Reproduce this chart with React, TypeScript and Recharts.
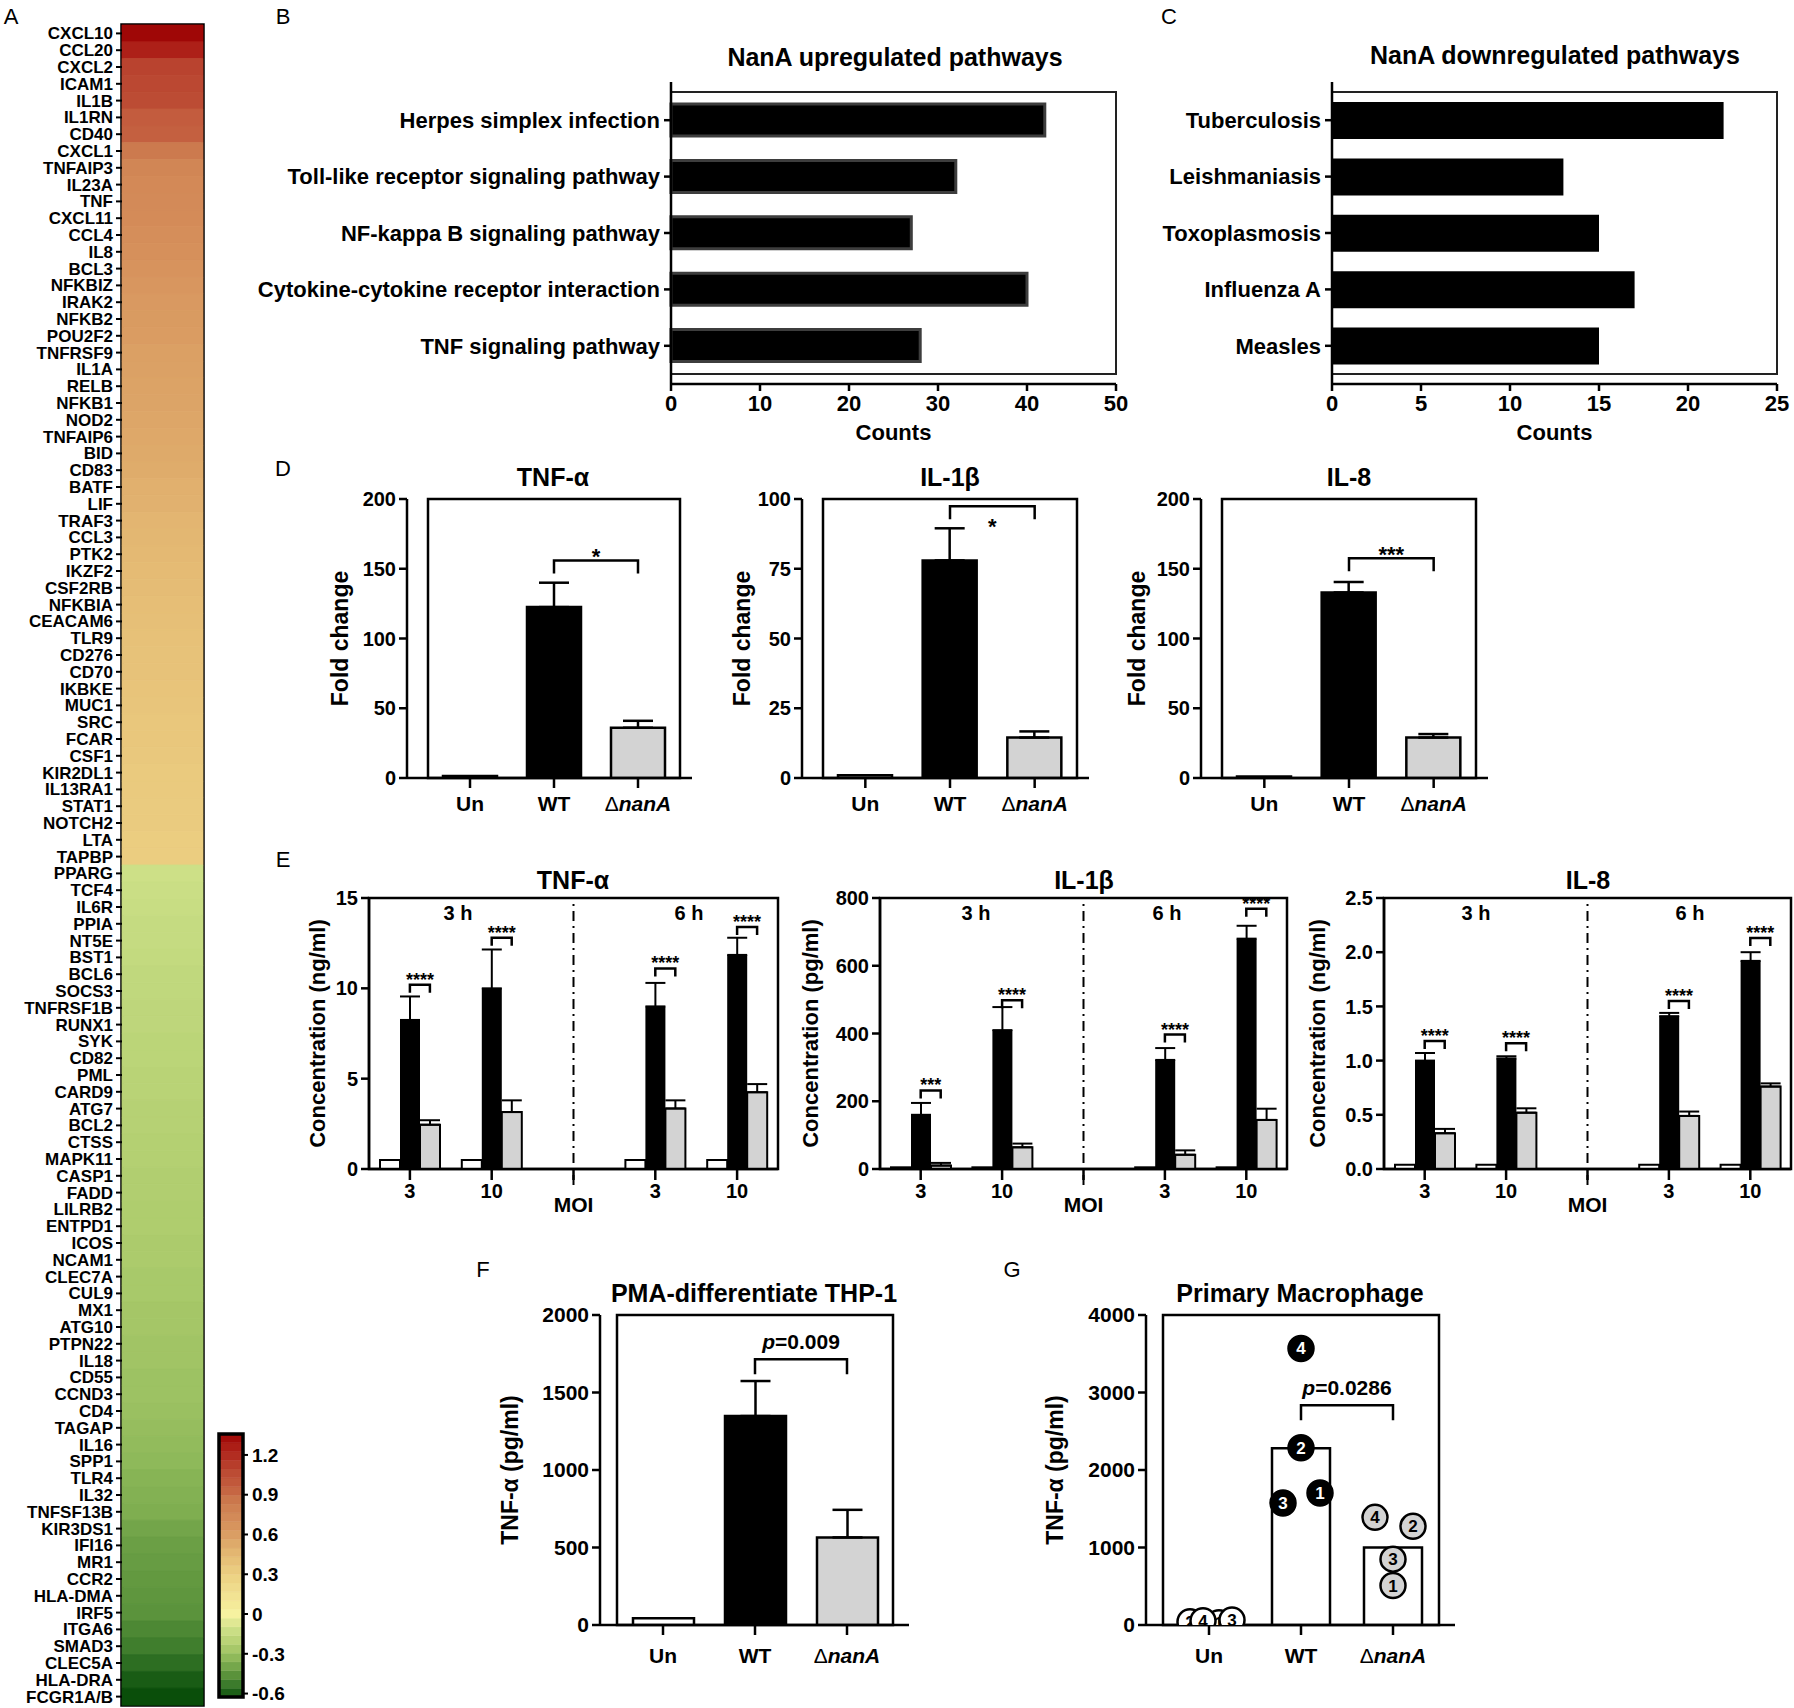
import React from 'react';
import {
  BarChart, Bar, ComposedChart, Scatter, XAxis, YAxis, Cell, ErrorBar,
  ReferenceArea, ReferenceLine,
} from 'recharts';

const FONT = '"Liberation Sans", Arial, Helvetica, sans-serif';
const AX = { stroke: '#000', strokeWidth: 2.5 };
const GRAY = '#d3d3d3';

// ---------- A: heatmap ----------
const GENES = [
  'CXCL10', 'CCL20', 'CXCL2', 'ICAM1', 'IL1B', 'IL1RN', 'CD40', 'CXCL1', 'TNFAIP3', 'IL23A',
  'TNF', 'CXCL11', 'CCL4', 'IL8', 'BCL3', 'NFKBIZ', 'IRAK2', 'NFKB2', 'POU2F2', 'TNFRSF9',
  'IL1A', 'RELB', 'NFKB1', 'NOD2', 'TNFAIP6', 'BID', 'CD83', 'BATF', 'LIF', 'TRAF3',
  'CCL3', 'PTK2', 'IKZF2', 'CSF2RB', 'NFKBIA', 'CEACAM6', 'TLR9', 'CD276', 'CD70', 'IKBKE',
  'MUC1', 'SRC', 'FCAR', 'CSF1', 'KIR2DL1', 'IL13RA1', 'STAT1', 'NOTCH2', 'LTA', 'TAPBP',
  'PPARG', 'TCF4', 'IL6R', 'PPIA', 'NT5E', 'BST1', 'BCL6', 'SOCS3', 'TNFRSF1B', 'RUNX1',
  'SYK', 'CD82', 'PML', 'CARD9', 'ATG7', 'BCL2', 'CTSS', 'MAPK11', 'CASP1', 'FADD',
  'LILRB2', 'ENTPD1', 'ICOS', 'NCAM1', 'CLEC7A', 'CUL9', 'MX1', 'ATG10', 'PTPN22', 'IL18',
  'CD55', 'CCND3', 'CD4', 'TAGAP', 'IL16', 'SPP1', 'TLR4', 'IL32', 'TNFSF13B', 'KIR3DS1',
  'IFI16', 'MR1', 'CCR2', 'HLA-DMA', 'IRF5', 'ITGA6', 'SMAD3', 'CLEC5A', 'HLA-DRA', 'FCGR1A/B',
];
const LOG_FC = [
  1.35, 1.25, 1.1, 1.08, 1.06, 0.97, 0.95, 0.85, 0.76, 0.74,
  0.73, 0.72, 0.7, 0.69, 0.67, 0.65, 0.63, 0.62, 0.61, 0.59,
  0.58, 0.57, 0.56, 0.55, 0.54, 0.53, 0.52, 0.5, 0.49, 0.47,
  0.46, 0.45, 0.44, 0.43, 0.42, 0.41, 0.4, 0.39, 0.39, 0.38,
  0.37, 0.36, 0.36, 0.35, 0.34, 0.34, 0.33, 0.33, 0.32, 0.32,
  -0.12, -0.13, -0.14, -0.15, -0.15, -0.16, -0.17, -0.17, -0.18, -0.18,
  -0.19, -0.19, -0.2, -0.2, -0.21, -0.21, -0.22, -0.22, -0.23, -0.23,
  -0.24, -0.24, -0.25, -0.25, -0.26, -0.26, -0.27, -0.27, -0.28, -0.28,
  -0.29, -0.29, -0.3, -0.31, -0.32, -0.33, -0.35, -0.36, -0.37, -0.4,
  -0.42, -0.43, -0.44, -0.45, -0.46, -0.49, -0.52, -0.56, -0.6, -0.63,
];
const COLORBAR_TICKS = [-0.6, -0.3, 0, 0.3, 0.6, 0.9, 1.2];
const COLORBAR_RANGE = [-0.626, 1.358];

const HEAT_STOPS: [number, number[]][] = [
  [-0.63, [10, 78, 10]],
  [-0.55, [50, 115, 38]],
  [-0.45, [95, 150, 62]],
  [-0.35, [135, 180, 85]],
  [-0.25, [172, 203, 108]],
  [-0.12, [205, 224, 135]],
  [0, [246, 242, 160]],
  [0.3, [236, 208, 130]],
  [0.45, [228, 185, 115]],
  [0.55, [221, 166, 104]],
  [0.7, [213, 142, 90]],
  [0.85, [204, 122, 78]],
  [0.95, [196, 96, 64]],
  [1.08, [187, 72, 50]],
  [1.25, [173, 32, 24]],
  [1.36, [158, 4, 4]],
];

function heatColor(v: number) {
  if (v <= HEAT_STOPS[0][0]) return `rgb(${HEAT_STOPS[0][1].join(',')})`;
  for (let i = 1; i < HEAT_STOPS.length; i++) {
    const [b, cb] = HEAT_STOPS[i];
    const [a, ca] = HEAT_STOPS[i - 1];
    if (v <= b) {
      const t = (v - a) / (b - a);
      const c = ca.map((x, k) => Math.round(x + (cb[k] - x) * t));
      return `rgb(${c.join(',')})`;
    }
  }
  return `rgb(${HEAT_STOPS[HEAT_STOPS.length - 1][1].join(',')})`;
}

// ---------- B / C: pathways ----------
const UP_PATHWAYS = [
  'Herpes simplex infection',
  'Toll-like receptor signaling pathway',
  'NF-kappa B signaling pathway',
  'Cytokine-cytokine receptor interaction',
  'TNF signaling pathway',
];
const UP_COUNTS = [42, 32, 27, 40, 28];
const DOWN_PATHWAYS = ['Tuberculosis', 'Leishmaniasis', 'Toxoplasmosis', 'Influenza A', 'Measles'];
const DOWN_COUNTS = [22, 13, 15, 17, 15];

// ---------- D: fold change ----------
const GROUPS = ['Un', 'WT', 'ΔnanA'];
const GROUP_FILLS = ['#fff', '#000', GRAY];
const D_TNF = [1.5, 122.5, 36];
const D_TNF_ERR = [0, 17.5, 5];
const D_IL1B = [1, 78, 14.5];
const D_IL1B_ERR = [0, 11.5, 2.2];
const D_IL8 = [1, 133, 29];
const D_IL8_ERR = [0, 7.5, 2.5];

// ---------- E: time course ----------
const E_KEYS = ['3h-3', '3h-10', 'mid', '6h-3', '6h-10'];
const E_TICK_LABELS = ['3', '10', 'MOI', '3', '10'];
const E_TNF_UN = [0.5, 0.5, null, 0.5, 0.5];
const E_TNF_WT = [8.25, 10.0, null, 9.0, 11.85];
const E_TNF_WT_ERR = [1.3, 2.15, null, 1.3, 0.95];
const E_TNF_DN = [2.45, 3.15, null, 3.35, 4.25];
const E_TNF_DN_ERR = [0.25, 0.65, null, 0.45, 0.45];
const E_TNF_SIG = [10.2, 12.8, null, 11.1, 13.4];
const E_TNF_STARS = ['****', '****', '', '****', '****'];

const E_IL1B_UN = [5, 5, null, 5, 5];
const E_IL1B_WT = [160, 410, null, 322, 680];
const E_IL1B_WT_ERR = [35, 68, null, 35, 38];
const E_IL1B_DN = [10, 64, null, 42, 145];
const E_IL1B_DN_ERR = [8, 11, null, 13, 33];
const E_IL1B_SIG = [232, 498, null, 397, 768];
const E_IL1B_STARS = ['***', '****', '', '****', '****'];

const E_IL8_UN = [0.04, 0.04, null, 0.04, 0.04];
const E_IL8_WT = [1.0, 1.02, null, 1.41, 1.92];
const E_IL8_WT_ERR = [0.07, 0.02, null, 0.03, 0.08];
const E_IL8_DN = [0.33, 0.52, null, 0.49, 0.76];
const E_IL8_DN_ERR = [0.04, 0.04, null, 0.04, 0.03];
const E_IL8_SIG = [1.18, 1.16, null, 1.55, 2.13];
const E_IL8_STARS = ['****', '****', '', '****', '****'];

// ---------- F / G ----------
const F_TNF = [43, 1348, 565];
const F_TNF_ERR = [0, 226, 178];
const G_MEAN = [48, 2280, 1000];
const G_POINT_GROUP = ['Un', 'Un', 'Un', 'Un', 'WT', 'WT', 'WT', 'WT', 'ΔnanA', 'ΔnanA', 'ΔnanA', 'ΔnanA'];
const G_POINT_DONOR = [2, 1, 4, 3, 4, 2, 1, 3, 4, 2, 3, 1];
const G_POINT_VALUE = [43, 30, 56, 65, 3568, 2286, 1704, 1575, 1389, 1273, 850, 509];
// horizontal scatter of the numbered symbols, px
const G_JITTER: Record<string, number> = {
  'Un-2': -19, 'Un-4': -6, 'Un-1': 10, 'Un-3': 23,
  'WT-4': 0, 'WT-2': 0, 'WT-1': 19, 'WT-3': -18,
  'ΔnanA-4': -18, 'ΔnanA-2': 20, 'ΔnanA-3': 0, 'ΔnanA-1': 0,
};

const place = (left: number, top: number): React.CSSProperties => ({ position: 'absolute', left, top });

const Txt = ({ x, y, size, weight = 700, children }: any) => (
  <div
    style={{
      position: 'absolute', left: x, top: y, transform: 'translate(-50%, -50%)',
      fontFamily: FONT, fontSize: size, fontWeight: weight, whiteSpace: 'nowrap', lineHeight: 1, color: '#000',
    }}
  >
    {children}
  </div>
);

const sigText = (text: string) =>
  text.startsWith('p=') ? (
    <>
      <tspan fontStyle="italic">p</tspan>
      <tspan>{text.slice(1)}</tspan>
    </>
  ) : (
    text
  );

// bracket drawn from a ReferenceLine segment; if x1 == x2 it spans `span` px to the right
const bracket = (text: string, drop: number, span: number, textDy: number, fs: number) => (p: any) => {
  const x1 = p.x1;
  const y = p.y1;
  const x2 = Math.abs(p.x2 - p.x1) < 0.5 ? p.x1 + span : p.x2;
  return (
    <g>
      <path d={`M${x1},${y + drop}V${y}H${x2}V${y + drop}`} fill="none" stroke="#000" strokeWidth={2.5} />
      <text x={(x1 + x2) / 2} y={y + textDy} textAnchor="middle" fontFamily={FONT} fontWeight={700} fontSize={fs} fill="#000">
        {sigText(text)}
      </text>
    </g>
  );
};

const GroupTick = ({ x, y, payload, fs, off }: any) => {
  const v = String(payload.value);
  return (
    <text x={x} y={y + off} textAnchor="middle" fontFamily={FONT} fontWeight={700} fontSize={fs} fill="#000">
      {v.startsWith('Δ') ? (
        <>
          <tspan fontWeight={400}>Δ</tspan>
          <tspan fontStyle="italic">{v.slice(1)}</tspan>
        </>
      ) : (
        v
      )}
    </text>
  );
};

const MoiTick = ({ x, y, payload, index }: any) => {
  const mid = payload.value === 'mid';
  const i = typeof index === 'number' ? index : E_KEYS.indexOf(payload.value);
  return (
    <text x={x} y={y + (mid ? 30 : 16)} textAnchor="middle" fontFamily={FONT} fontWeight={700} fontSize={mid ? 21 : 20} fill="#000">
      {E_TICK_LABELS[i]}
    </text>
  );
};

const tickStyle = (fs: number) => ({ fontFamily: FONT, fontWeight: 700, fontSize: fs, fill: '#000' });

// ---------- panels ----------
function Heatmap() {
  const rows = GENES.map((gene, i) => ({ gene, fc: LOG_FC[i], cell: 1 }));
  return (
    <div style={place(0, 0)}>
      <BarChart width={212} height={1708} layout="vertical" data={rows} margin={{ top: 25, right: 9, bottom: 3, left: 0 }} barCategoryGap={0}>
        <XAxis type="number" domain={[0, 1]} hide />
        <YAxis
          type="category" dataKey="gene" width={122} interval={0} tickSize={6} tickMargin={3}
          tick={tickStyle(17)} tickLine={{ stroke: '#000', strokeWidth: 2 }} axisLine={false}
        />
        <Bar dataKey="cell" isAnimationActive={false}>
          {rows.map((r, i) => (
            <Cell key={i} fill={heatColor(r.fc)} stroke={heatColor(r.fc)} strokeWidth={0.8} />
          ))}
        </Bar>
        <ReferenceArea x1={0} x2={1} fill="none" stroke="#000" strokeWidth={3.5} ifOverflow="visible" />
      </BarChart>
    </div>
  );
}

function ColorBar() {
  const n = 30;
  const step = (COLORBAR_RANGE[1] - COLORBAR_RANGE[0]) / n;
  const bands = Array.from({ length: n }, (_, i) => COLORBAR_RANGE[0] + i * step);
  return (
    <div style={place(200, 1414)}>
      <ComposedChart width={110} height={294} data={[{ x: 0 }, { x: 1 }]} margin={{ top: 20, right: 7, bottom: 11, left: 19 }}>
        <XAxis type="number" dataKey="x" domain={[0, 1]} hide />
        <YAxis
          orientation="right" type="number" domain={COLORBAR_RANGE} allowDataOverflow ticks={COLORBAR_TICKS} interval={0}
          width={60} tickSize={5} tickMargin={4} axisLine={false} tickLine={{ stroke: '#000', strokeWidth: 2 }}
          tick={tickStyle(19)} tickFormatter={(v: number) => (v === 0 ? '0' : v.toFixed(1))}
        />
        {bands.map((lo, i) => (
          <ReferenceArea key={i} x1={0} x2={1} y1={lo} y2={lo + step} fill={heatColor(lo + step / 2)} fillOpacity={1} stroke={heatColor(lo + step / 2)} strokeWidth={0.5} ifOverflow="visible" />
        ))}
        <ReferenceArea x1={0} x2={1} y1={COLORBAR_RANGE[0]} y2={COLORBAR_RANGE[1]} fill="none" stroke="#000" strokeWidth={3.5} ifOverflow="visible" />
      </ComposedChart>
    </div>
  );
}

function Pathways({ left, width, yWidth, names, counts, max, ticks, labelFs, barStroke }: any) {
  const rows = names.map((name: string, i: number) => ({ name, count: counts[i] }));
  return (
    <div style={place(left, 70)}>
      <BarChart width={width} height={380} layout="vertical" data={rows} margin={{ top: 12, right: width - yWidth - 445, bottom: 6, left: 0 }}>
        <XAxis
          type="number" domain={[0, max]} ticks={ticks} height={60} tickSize={7} tickMargin={4}
          axisLine={AX} tickLine={AX} tick={tickStyle(22)}
          label={{ value: 'Counts', position: 'insideBottom', offset: 4, fontFamily: FONT, fontWeight: 700, fontSize: 22, fill: '#000' }}
        />
        <YAxis
          type="category" dataKey="name" width={yWidth} interval={0} tickSize={7} tickMargin={4}
          axisLine={AX} tickLine={AX} tick={tickStyle(labelFs)} padding={{ top: 10, bottom: 10 }}
        />
        <ReferenceArea x1={0} x2={max} fill="none" stroke="#222" strokeWidth={2} ifOverflow="visible" />
        <Bar
          dataKey="count" fill="#000" stroke={barStroke ? '#3d3d3d' : 'none'} strokeWidth={barStroke ? 3 : 0}
          barSize={barStroke ? 32 : 37} isAnimationActive={false}
        />
      </BarChart>
    </div>
  );
}

function GroupPanel({ left, yWidth, plotW, top, height, mTop, xHeight, mBottom, values, errors, fills, domain, ticks, yLabel, yLabelFs, sig, sigText: st, sigDy, sigFs, barSize, tickFs, tickOff, points, pad }: any) {
  const rows = GROUPS.map((g, i) => ({ group: g, v: values[i], err: errors ? errors[i] : 0 }));
  const width = yWidth + plotW + 21;
  const Chart: any = points ? ComposedChart : BarChart;
  return (
    <div style={place(left, top)}>
      <Chart width={width} height={height} data={rows} margin={{ top: mTop, right: 21, bottom: mBottom, left: 0 }}>
        <XAxis
          dataKey="group" height={xHeight} padding={pad} tickSize={10} tickMargin={2}
          axisLine={AX} tickLine={AX} interval={0} allowDuplicatedCategory={false}
          tick={(t: any) => <GroupTick {...t} fs={21} off={tickOff} />}
        />
        <YAxis
          width={yWidth} domain={domain} ticks={ticks} allowDataOverflow tickSize={8} tickMargin={3}
          axisLine={AX} tickLine={AX} tick={tickStyle(tickFs)}
          label={{ value: yLabel, angle: -90, position: 'center', fontFamily: FONT, fontWeight: 700, fontSize: yLabelFs, fill: '#000' }}
        />
        <ReferenceArea y1={domain[0]} y2={domain[1]} fill="none" stroke="#000" strokeWidth={2.5} ifOverflow="visible" />
        <Bar dataKey="v" barSize={barSize} strokeWidth={2.5} isAnimationActive={false}>
          {rows.map((r, i) => (
            <Cell key={i} fill={fills[i]} stroke="#000" />
          ))}
          {errors && (
            <ErrorBar dataKey={(d: any) => (d.err ? [0, d.err] : undefined)} width={15} stroke="#000" strokeWidth={2.5} />
          )}
        </Bar>
        <ReferenceLine
          segment={[{ x: 'WT', y: sig }, { x: 'ΔnanA', y: sig }]} ifOverflow="visible"
          shape={bracket(st, sigDy < 0 && st.startsWith('p') ? 15 : 13, 0, sigDy, sigFs)}
        />
        {points && (
          <Scatter
            data={points} dataKey="v" isAnimationActive={false}
            shape={(s: any) => {
              const d = s.payload;
              const cx = s.cx + (G_JITTER[`${d.group}-${d.donor}`] || 0);
              const fill = d.group === 'WT' ? '#000' : d.group === 'Un' ? '#fff' : GRAY;
              return (
                <g>
                  <circle cx={cx} cy={s.cy} r={12.5} fill={fill} stroke="#000" strokeWidth={2.5} />
                  <text x={cx} y={s.cy + 6} textAnchor="middle" fontFamily={FONT} fontWeight={700} fontSize={17} fill={d.group === 'WT' ? '#fff' : '#000'}>
                    {d.donor}
                  </text>
                </g>
              );
            }}
          />
        )}
      </Chart>
    </div>
  );
}

function TimeCourse({ left, yWidth, plotW, right, domain, ticks, fmt, yLabel, un, wt, wtErr, dn, dnErr, sig, stars }: any) {
  const rows = E_KEYS.map((key, i) => ({ key, un: un[i], wt: wt[i], wtErr: wtErr[i], dn: dn[i], dnErr: dnErr[i] }));
  const ext = -(domain[1] * 16) / 271;
  return (
    <div style={place(left, 860)}>
      <BarChart width={yWidth + plotW + right} height={370} data={rows} margin={{ top: 38, right, bottom: 6, left: 0 }} barGap={0}>
        <XAxis dataKey="key" height={55} tickSize={11} tickMargin={2} axisLine={AX} tickLine={AX} interval={0} tick={(t: any) => <MoiTick {...t} />} />
        <YAxis
          width={yWidth} domain={domain} ticks={ticks} allowDataOverflow tickSize={8} tickMargin={3}
          axisLine={AX} tickLine={AX} tick={tickStyle(20)} tickFormatter={fmt}
          label={{ value: yLabel, angle: -90, position: 'center', fontFamily: FONT, fontWeight: 700, fontSize: 22, fill: '#000' }}
        />
        <ReferenceArea y1={domain[0]} y2={domain[1]} fill="none" stroke="#000" strokeWidth={2.5} ifOverflow="visible" />
        <ReferenceLine
          segment={[{ x: 'mid', y: ext }, { x: 'mid', y: domain[1] }]} stroke="#000" strokeWidth={2}
          strokeDasharray="10 5 2 5" ifOverflow="visible"
        />
        <Bar dataKey="un" barSize={20} fill="#fff" stroke="#000" strokeWidth={2} isAnimationActive={false} />
        <Bar dataKey="wt" barSize={20} fill="#000" isAnimationActive={false}>
          <ErrorBar dataKey={(d: any) => (d.wtErr == null ? undefined : [0, d.wtErr])} width={10} stroke="#000" strokeWidth={2} />
        </Bar>
        <Bar dataKey="dn" barSize={20} fill={GRAY} stroke="#000" strokeWidth={2} isAnimationActive={false}>
          <ErrorBar dataKey={(d: any) => (d.dnErr == null ? undefined : [0, d.dnErr])} width={10} stroke="#000" strokeWidth={2} />
        </Bar>
        {rows.map((r, i) =>
          sig[i] == null ? null : (
            <ReferenceLine
              key={i} segment={[{ x: r.key, y: sig[i] }, { x: r.key, y: sig[i] }]} ifOverflow="visible"
              shape={bracket(stars[i], 8, 20, 1, 18)}
            />
          ),
        )}
      </BarChart>
    </div>
  );
}

export default function App() {
  const gPoints = G_POINT_GROUP.map((group, i) => ({ group, donor: G_POINT_DONOR[i], v: G_POINT_VALUE[i] }));
  const dCommon = { top: 470, height: 360, mTop: 29, xHeight: 46, mBottom: 6, fills: GROUP_FILLS, barSize: 54, tickFs: 20, tickOff: 21, yLabel: 'Fold change', yLabelFs: 23, sigFs: 22, pad: { left: 21, right: 12 } };
  const fgCommon = { top: 1280, height: 420, mTop: 35, xHeight: 62, mBottom: 13, plotW: 309, tickFs: 21, tickOff: 26, yLabel: 'TNF-α  (pg/ml)', yLabelFs: 23, sigFs: 21, sigDy: -10, pad: { left: 17, right: 16 } };
  const fmt1 = (v: number) => v.toFixed(1);
  return (
    <div style={{ position: 'absolute', left: 0, top: 0, width: 1794, height: 1708, background: '#fff', fontFamily: FONT, overflow: 'hidden' }}>
      {/* panel letters */}
      <Txt x={11} y={17} size={22} weight={400}>A</Txt>
      <Txt x={283} y={17} size={22} weight={400}>B</Txt>
      <Txt x={1169} y={17} size={22} weight={400}>C</Txt>
      <Txt x={283} y={469} size={22} weight={400}>D</Txt>
      <Txt x={283} y={860} size={22} weight={400}>E</Txt>
      <Txt x={483} y={1270} size={22} weight={400}>F</Txt>
      <Txt x={1012} y={1270} size={22} weight={400}>G</Txt>

      <Heatmap />
      <ColorBar />

      <Txt x={895} y={57} size={25}>NanA upregulated pathways</Txt>
      <Pathways left={230} width={910} yWidth={441} names={UP_PATHWAYS} counts={UP_COUNTS} max={50} ticks={[0, 10, 20, 30, 40, 50]} labelFs={22} barStroke />
      <Txt x={1555} y={55} size={25}>NanA downregulated pathways</Txt>
      <Pathways left={1150} width={644} yWidth={182} names={DOWN_PATHWAYS} counts={DOWN_COUNTS} max={25} ticks={[0, 5, 10, 15, 20, 25]} labelFs={22} />

      <Txt x={553} y={477} size={25}>TNF-α</Txt>
      <GroupPanel {...dCommon} left={407 - 134} yWidth={134} plotW={285} values={D_TNF} errors={D_TNF_ERR} domain={[0, 200]} ticks={[0, 50, 100, 150, 200]} sig={156} sigText="*" sigDy={4} />
      <Txt x={950} y={477} size={25}>IL-1β</Txt>
      <GroupPanel {...dCommon} left={802 - 120} yWidth={120} plotW={287} values={D_IL1B} errors={D_IL1B_ERR} domain={[0, 100]} ticks={[0, 25, 50, 75, 100]} sig={97.4} sigText="*" sigDy={28} />
      <Txt x={1349} y={477} size={25}>IL-8</Txt>
      <GroupPanel {...dCommon} left={1201 - 128} yWidth={128} plotW={287} values={D_IL8} errors={D_IL8_ERR} domain={[0, 200]} ticks={[0, 50, 100, 150, 200]} sig={157.6} sigText="***" sigDy={4} />

      <Txt x={573} y={880} size={25}>TNF-α</Txt>
      <Txt x={458} y={913} size={20}>3 h</Txt>
      <Txt x={689} y={913} size={20}>6 h</Txt>
      <TimeCourse
        left={369 - 104} yWidth={104} plotW={409} right={6} domain={[0, 15]} ticks={[0, 5, 10, 15]} yLabel="Concentration (ng/ml)"
        un={E_TNF_UN} wt={E_TNF_WT} wtErr={E_TNF_WT_ERR} dn={E_TNF_DN} dnErr={E_TNF_DN_ERR} sig={E_TNF_SIG} stars={E_TNF_STARS}
      />
      <Txt x={1084} y={880} size={25}>IL-1β</Txt>
      <Txt x={976} y={913} size={20}>3 h</Txt>
      <Txt x={1167} y={913} size={20}>6 h</Txt>
      <TimeCourse
        left={880 - 140} yWidth={140} plotW={407} right={6} domain={[0, 800]} ticks={[0, 200, 400, 600, 800]} yLabel="Concentration (pg/ml)"
        un={E_IL1B_UN} wt={E_IL1B_WT} wtErr={E_IL1B_WT_ERR} dn={E_IL1B_DN} dnErr={E_IL1B_DN_ERR} sig={E_IL1B_SIG} stars={E_IL1B_STARS}
      />
      <Txt x={1588} y={880} size={25}>IL-8</Txt>
      <Txt x={1476} y={913} size={20}>3 h</Txt>
      <Txt x={1690} y={913} size={20}>6 h</Txt>
      <TimeCourse
        left={1384 - 134} yWidth={134} plotW={407} right={3} domain={[0, 2.5]} ticks={[0, 0.5, 1, 1.5, 2, 2.5]} fmt={fmt1} yLabel="Concentration (ng/ml)"
        un={E_IL8_UN} wt={E_IL8_WT} wtErr={E_IL8_WT_ERR} dn={E_IL8_DN} dnErr={E_IL8_DN_ERR} sig={E_IL8_SIG} stars={E_IL8_STARS}
      />

      <Txt x={754} y={1293} size={25}>PMA-differentiate THP-1</Txt>
      <GroupPanel {...fgCommon} left={600 - 180} yWidth={180} values={F_TNF} errors={F_TNF_ERR} fills={GROUP_FILLS} barSize={61} domain={[0, 2000]} ticks={[0, 500, 1000, 1500, 2000]} sig={1714} sigText="p=0.009" />
      <Txt x={1300} y={1293} size={25}>Primary Macrophage</Txt>
      <GroupPanel {...fgCommon} left={1146 - 182} yWidth={182} values={G_MEAN} fills={['#fff', '#fff', '#fff']} barSize={58} domain={[0, 4000]} ticks={[0, 1000, 2000, 3000, 4000]} sig={2834} sigText="p=0.0286" points={gPoints} />
    </div>
  );
}
